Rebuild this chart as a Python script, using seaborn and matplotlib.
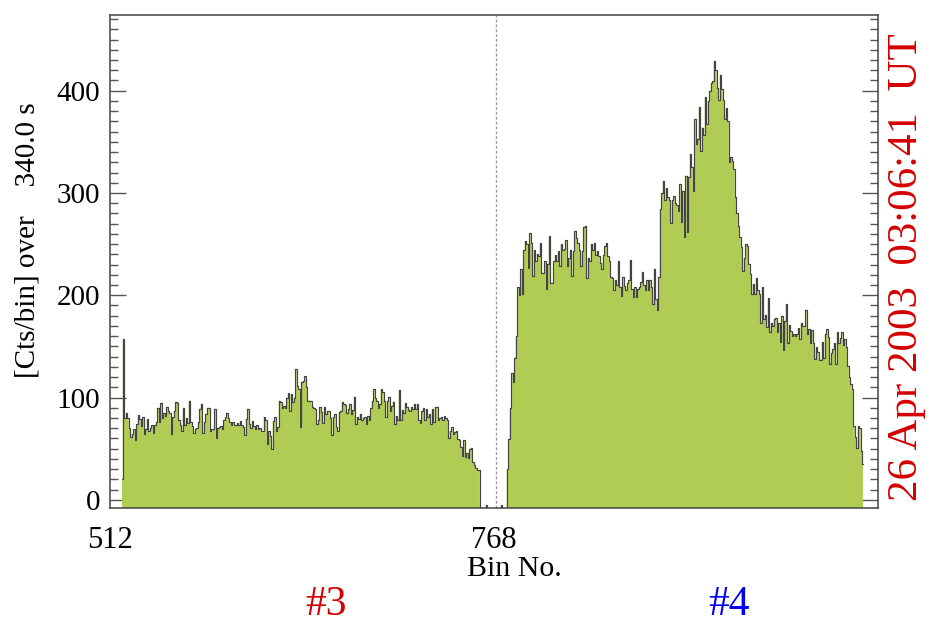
import numpy as np
import pandas as pd
import matplotlib
matplotlib.use("Agg")
import matplotlib.pyplot as plt
from matplotlib.ticker import MultipleLocator
import seaborn as sns

# ---------------- data (counts per bin) ----------------
first_bin = 520

seg_a = [20, 157, 80, 85, 80, 70, 61, 64, 69, 58, 74,
         83, 79, 72, 81, 64, 69, 79, 67, 70, 73, 65,
         73, 76, 90, 76, 95, 80, 85, 82, 91, 87, 85,
         64, 81, 87, 96, 95, 78, 73, 67, 90, 73, 80,
         75, 97, 76, 72, 65, 69, 70, 76, 89, 94, 65,
         76, 84, 90, 90, 67, 69, 69, 89, 60, 70, 71,
         72, 69, 78, 81, 85, 80, 76, 73, 76, 73, 73, 75, 73]

seg_b = [77, 73, 71, 63, 79, 89, 74, 70, 77, 72, 69,
         73, 69, 70, 67, 67, 81, 78, 55, 67, 62, 50,
         77, 81, 67, 71, 97, 96, 90, 92, 90, 100, 104,
         87, 103, 96, 100, 128, 111, 108, 71, 115, 116,
         121, 110, 97, 97, 97, 91, 90, 89, 74, 78,
         91, 86, 75, 91, 84, 87, 87, 80, 63, 81, 84,
         71, 67, 86, 87, 96, 94, 93, 85, 89, 94,
         84, 88, 101, 74, 81, 79, 84, 78, 80]

seg_c = [81, 74, 82, 78, 90, 97, 108, 100, 97, 90, 94,
         108, 105, 97, 81, 97, 101, 87, 92, 96, 74, 82,
         78, 107, 78, 88, 85, 95, 91, 88, 87, 91, 89,
         94, 89, 94, 78, 75, 87, 90, 78, 89, 81, 84,
         74, 89, 76, 91, 91, 78, 80, 81, 78, 82, 80,
         78, 60, 67, 71, 64, 66, 67, 59, 58, 52, 43,
         58, 42, 46, 41, 50, 51, 37, 34, 31, 29, 29]

gap = [-20, -20, -20, -20, -5, -20, -20, -20, -20,
       -20, -20, -20, -20, -20, -5, -20, -20, -20]

seg_d = [30, 59, 90, 124, 115, 139, 160, 208, 200, 226, 201,
         244, 253, 250, 227, 261, 251, 219, 244, 233, 240,
         238, 251, 222, 222, 233, 206, 231, 258, 212, 212,
         233, 239, 233, 243, 229, 250, 244, 245, 254, 229, 236,
         244, 219, 243, 263, 256, 251, 244, 229, 243, 267,
         268, 217, 236, 233, 250, 244, 251, 239, 243, 238, 232,
         226, 239, 248, 251, 238, 233, 218, 217, 205, 215, 210,
         233, 208, 199, 218, 209, 205, 212]

seg_e = [215, 234, 206, 198, 208, 198, 206, 208, 213, 223, 210,
         205, 215, 205, 215, 208, 191, 226, 196, 186, 218,
         284, 300, 312, 293, 305, 296, 293, 271, 293, 297, 290, 288,
         282, 309, 272, 302, 257, 317, 262, 316, 338, 325, 302,
         372, 348, 353, 384, 341, 364, 357, 394, 367, 390, 400,
         408, 409, 429, 420, 403, 391, 415, 402, 391, 372, 383,
         370, 330, 335, 331, 323, 296, 280, 268, 257, 247, 224, 236,
         250, 248, 231, 221, 201, 211, 201, 217, 205]

seg_f = [201, 173, 208, 177, 181, 169, 197, 164, 173, 170, 177,
         178, 164, 173, 154, 180, 146, 175, 191, 153, 171, 165,
         160, 162, 160, 162, 168, 157, 173, 170, 170, 186, 162,
         167, 153, 166, 153, 138, 149, 145, 137, 137, 154, 139,
         162, 167, 159, 133, 144, 147, 153, 133, 164, 153, 158,
         164, 151, 157, 149, 131, 120, 113, 108, 72, 61, 51,
         72, 70, 48, 35]

x_ticks = [512, 768]
y_ticks = [0, 100, 200, 300, 400]
x_range = [512, 1024]
y_range = [-8, 474]
split_bin = 769.3
x_label = "Bin No."
y_label = "[Cts/bin] over    340.0 s"
date_label = "26 Apr 2003  03:06:41  UT"
part_labels = ["#3", "#4"]

counts = seg_a + seg_b + seg_c + gap + seg_d + seg_e + seg_f
bins = np.arange(first_bin, first_bin + len(counts))
df = pd.DataFrame({"bin": bins, "counts": counts})

# ---------------- styling ----------------
sns.set_style("ticks")
plt.rcParams["font.family"] = ["Liberation Serif", "DejaVu Serif"]
plt.rcParams["text.color"] = "black"
plt.rcParams["xtick.labelcolor"] = "black"
plt.rcParams["ytick.labelcolor"] = "black"

W, H = 942, 632
fig = plt.figure(figsize=(W / 100, H / 100), dpi=100)
ax = fig.add_axes([110 / W, 1 - 508 / H, 768 / W, 493 / H])

fill_color = "#b1cc55"
line_color = "#444444"
red = "#d40000"
blue = "#0000ee"

ax.fill_between(df["bin"], df["counts"], y_range[0], step="mid",
                facecolor=fill_color, edgecolor="none", lw=0)
sns.lineplot(data=df, x="bin", y="counts", drawstyle="steps-mid",
             color=line_color, lw=0.85, ax=ax, estimator=None)
ax.axvline(split_bin, color="#9a9a9a", lw=1.0, ls=(0, (2.0, 1.5)))

ax.set_xlim(*x_range)
ax.set_ylim(*y_range)
ax.set_xticks(x_ticks)
ax.set_xticklabels([str(t) for t in x_ticks])
ax.yaxis.set_major_locator(MultipleLocator(100))
ax.yaxis.set_minor_locator(MultipleLocator(10))
ax.set_xlabel("")
ax.set_ylabel("")

ax.tick_params(axis="x", which="both", length=0, pad=13, labelsize=22,
               labelcolor="black")
ax.tick_params(axis="y", which="both", direction="in", left=True, right=True,
               color="#555555", width=1.0, labelsize=21, pad=7,
               labelcolor="black")
ax.tick_params(axis="y", which="major", length=11.5)
ax.tick_params(axis="y", which="minor", length=5.8)

for sp in ax.spines.values():
    sp.set_visible(True)
    sp.set_color("#444444")
    sp.set_linewidth(1.1)

fig.text(28 / W, 1 - 240 / H, y_label, rotation=90, ha="center", va="center",
         fontsize=21, color="black")
fig.text(907 / W, 1 - 267 / H, date_label, rotation=90, ha="center",
         va="center", fontsize=31, color=red)
fig.text(514 / W, 1 - 569 / H, x_label, ha="center", va="center", fontsize=21.5,
         color="black")
fig.text(326 / W, 1 - 605 / H, part_labels[0], ha="center", va="center",
         fontsize=30, color=red)
fig.text(729 / W, 1 - 605 / H, part_labels[1], ha="center", va="center",
         fontsize=30, color=blue)

fig.savefig("out.png", dpi=100)
